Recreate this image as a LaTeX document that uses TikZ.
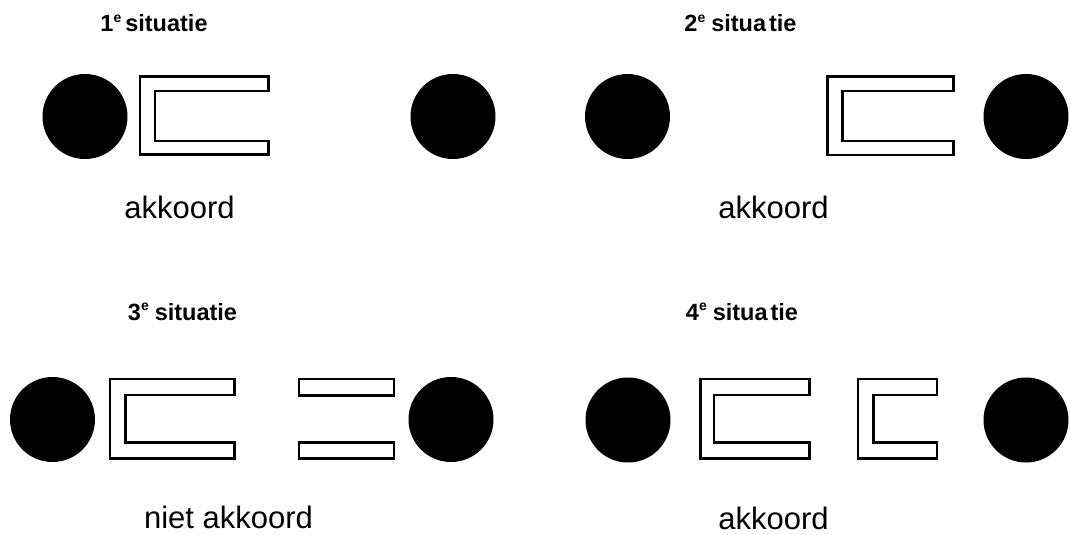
\documentclass[tikz,border=0pt]{standalone}
\usepackage{fontspec}
\setmainfont{Liberation Sans}
\newcommand\cprofile[7]{%
  \draw[profile] (#1,#3) -- (#2,#3) -- (#2,#6) -- (#5,#6) -- (#5,#7) -- (#2,#7) -- (#2,#4) -- (#1,#4) -- cycle;}
\newcommand\supe{\raisebox{0.4em}{\fontsize{14}{14}\selectfont e}}
\tikzset{
  ball/.style={circle, fill=black, inner sep=0pt, minimum size=85pt},
  profile/.style={draw=black, line width=2.4pt, fill=white},
  titletext/.style={font=\fontsize{23.5}{28}\selectfont\bfseries, anchor=base, inner sep=0pt},
  verdict/.style={font=\fontsize{31}{36}\selectfont, anchor=base, inner sep=0pt},
}
\begin{document}
\begin{tikzpicture}[x=1pt,y=-1pt]
\useasboundingbox[fill=white] (0,0) rectangle (1071,535);

% 1e situatie
\node[titletext] (t1) at (154,32) {1\supe\hspace{4pt}situatie};
\node[ball] (b1a) at (85,116.5) {};
\cprofile{140}{268.5}{76.5}{154.5}{155}{91}{141}
\node[ball] (b1b) at (453,116.5) {};
\node[verdict] (v1) at (179.6,218) {akkoord};

% 2e situatie
\node[titletext] (t2) at (740.5,32) {2\supe\hspace{6pt}situa\hspace{3pt}tie};
\node[ball] (b2a) at (627.5,116.5) {};
\cprofile{827.5}{953.5}{76.5}{155}{842.5}{91}{141}
\node[ball] (b2b) at (1026,116.5) {};
\node[verdict] (v2) at (773.5,218) {akkoord};

% 3e situatie
\node[titletext] (t3) at (182.5,320) {3\supe\hspace{6pt}situatie};
\node[ball] (b3a) at (52.5,419.5) {};
\cprofile{109.7}{234.6}{379}{458.5}{125.6}{395}{442.5}
\draw[profile] (299,379) rectangle (394,395.5);
\draw[profile] (299,442.5) rectangle (394,458.5);
\node[ball] (b3b) at (451,419.5) {};
\node[verdict] (v3) at (228.5,528) {niet akkoord};

% 4e situatie
\node[titletext] (t4) at (742,320) {4\supe\hspace{6pt}situa\hspace{3pt}tie};
\node[ball] (b4a) at (628,420) {};
\cprofile{700.3}{809.3}{379}{458.5}{714.1}{395}{442.5}
\cprofile{857.7}{936.7}{379}{458.5}{873.3}{395}{442.5}
\node[ball] (b4b) at (1026,420) {};
\node[verdict] (v4) at (773.5,529) {akkoord};
\end{tikzpicture}
\end{document}
